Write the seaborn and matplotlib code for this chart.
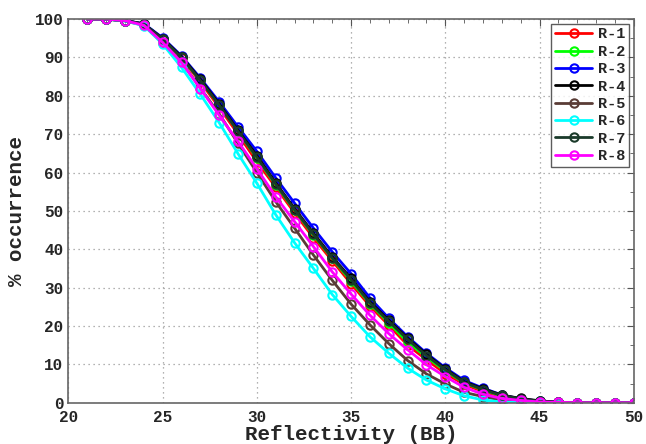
import numpy as np
import pandas as pd
import matplotlib
matplotlib.use('Agg')
import matplotlib.pyplot as plt
import seaborn as sns

reflectivity = list(range(21, 51))

r1 = [100, 100, 99.6, 98.7, 94.8, 89.8, 83.6, 77.0, 70.0, 62.8, 56.2, 49.5, 43.0, 37.0, 31.0, 25.2, 20.2, 15.0, 11.2, 7.6, 4.8, 2.9, 1.6, 0.7, 0.3, 0.1, 0, 0, 0, 0]
r2 = [100, 100, 99.6, 98.7, 94.9, 90.0, 84.0, 77.6, 70.7, 63.8, 56.8, 50.2, 43.7, 37.6, 31.7, 25.8, 20.8, 15.8, 11.9, 8.3, 5.2, 3.3, 1.8, 0.8, 0.3, 0.1, 0, 0, 0, 0]
r3 = [100, 100, 99.6, 98.8, 95.1, 90.4, 84.6, 78.4, 71.9, 65.5, 58.6, 52.0, 45.5, 39.3, 33.6, 27.3, 22.0, 17.2, 12.9, 9.1, 5.8, 3.8, 2.0, 1.0, 0.4, 0.1, 0, 0, 0, 0]
r4 = [100, 100, 99.6, 98.7, 94.9, 90.2, 84.3, 77.9, 71.0, 64.4, 57.3, 50.6, 44.2, 38.0, 32.4, 26.3, 21.5, 16.8, 12.6, 8.8, 5.5, 3.6, 2.0, 1.1, 0.5, 0.1, 0, 0, 0, 0]
r5 = [100, 100, 99.5, 98.4, 93.8, 88.8, 82.0, 75.3, 67.6, 60.0, 52.4, 45.5, 38.5, 31.9, 25.7, 20.3, 15.4, 11.0, 7.5, 4.9, 2.7, 1.6, 0.7, 0.3, 0.1, 0, 0, 0, 0, 0]
r6 = [100, 100, 99.5, 98.3, 93.5, 87.4, 80.4, 73.0, 64.9, 57.2, 49.0, 41.7, 35.0, 28.2, 22.5, 17.2, 12.9, 9.0, 5.9, 3.6, 1.8, 0.7, 0.2, 0.1, 0, 0, 0, 0, 0, 0]
r7 = [100, 100, 99.6, 98.7, 94.8, 90.0, 84.0, 77.6, 70.7, 64.0, 57.0, 50.3, 43.9, 37.7, 32.1, 26.0, 21.2, 16.5, 12.3, 8.6, 5.3, 3.4, 1.9, 1.0, 0.4, 0.1, 0, 0, 0, 0]
r8 = [100, 100, 99.6, 98.4, 93.9, 88.7, 81.9, 74.9, 68.1, 61.0, 53.7, 47.2, 40.7, 34.1, 28.3, 22.8, 18.0, 13.8, 9.9, 6.8, 4.0, 2.2, 1.1, 0.6, 0.2, 0.1, 0, 0, 0, 0]

series_names = ['R-1', 'R-2', 'R-3', 'R-4', 'R-5', 'R-6', 'R-7', 'R-8']
series_values = [r1, r2, r3, r4, r5, r6, r7, r8]
series_colors = ['#ff0000', '#00ff00', '#0000ff', '#000000',
                 '#5a3c36', '#00ffff', '#1a3a2a', '#ff00ff']

x_ticks = [20, 25, 30, 35, 40, 45, 50]
y_ticks = [0, 10, 20, 30, 40, 50, 60, 70, 80, 90, 100]

df = pd.DataFrame({
    'Reflectivity': np.tile(reflectivity, len(series_names)),
    'occurrence': np.concatenate(series_values),
    'series': np.repeat(series_names, len(reflectivity)),
})

sns.set_style('white')
plt.rcParams['font.family'] = ['Liberation Mono', 'DejaVu Sans Mono']
plt.rcParams['font.weight'] = 'bold'

fig, ax = plt.subplots(figsize=(6.46, 4.44), dpi=100)
fig.subplots_adjust(left=0.106, right=0.981, top=0.957, bottom=0.093)

for name, col in zip(series_names, series_colors):
    sns.lineplot(data=df[df['series'] == name], x='Reflectivity', y='occurrence',
                 ax=ax, color=col, label=name, marker='o', markersize=6,
                 markerfacecolor='none', markeredgecolor=col, markeredgewidth=1.5,
                 linewidth=2)

ax.set_xlim(20, 50)
ax.set_ylim(0, 100)
ax.set_xticks(x_ticks)
ax.set_yticks(y_ticks)
ax.set_xticks(np.arange(20, 51, 1), minor=True)
ax.set_yticks(np.arange(0, 101, 5), minor=True)
ax.tick_params(which='both', direction='in', top=True, right=True, color='#555555')
ax.tick_params(which='major', length=5, labelsize=11.5)
ax.tick_params(axis='x', which='major', pad=5)
ax.tick_params(which='minor', length=3)
for s in ax.spines.values():
    s.set_color('#666666')
    s.set_linewidth(1.2)

ax.grid(True, which='major', linestyle=(0, (1, 3)), color='#999999', linewidth=0.9)

ax.set_xlabel('Reflectivity (BB)', fontsize=15, fontweight='bold', labelpad=0)
ax.set_ylabel('% occurrence', fontsize=15, fontweight='bold', labelpad=6)

leg = ax.legend(loc='upper right', fontsize=11, frameon=True, fancybox=False,
                handlelength=2.4, borderpad=0.25, labelspacing=0.22,
                handletextpad=0.4, borderaxespad=0.3)
leg.get_frame().set_edgecolor('#333333')
leg.get_frame().set_linewidth(1.0)
for t in leg.get_texts():
    t.set_fontweight('bold')

fig.savefig('out.png', dpi=100)
